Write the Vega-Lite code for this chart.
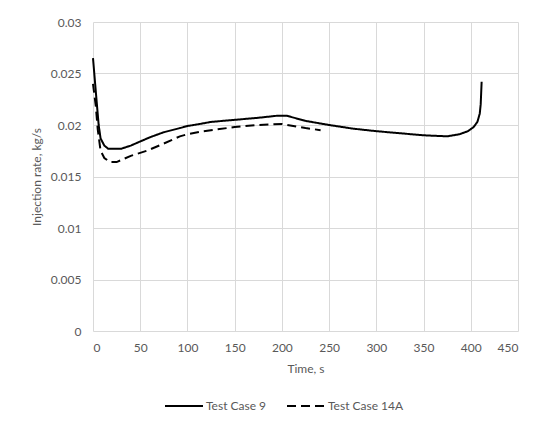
{
  "$schema": "https://vega.github.io/schema/vega-lite/v6.json",
  "width": 425,
  "height": 309,
  "autosize": "none",
  "padding": {"left": 93, "top": 22, "right": 23, "bottom": 92},
  "background": "white",
  "data": {
    "values": [
      {"t": 0, "v": 0.0265, "s": "Test Case 9"},
      {"t": 3, "v": 0.0232, "s": "Test Case 9"},
      {"t": 6, "v": 0.0200, "s": "Test Case 9"},
      {"t": 8, "v": 0.0187, "s": "Test Case 9"},
      {"t": 12, "v": 0.0180, "s": "Test Case 9"},
      {"t": 16, "v": 0.0177, "s": "Test Case 9"},
      {"t": 30, "v": 0.0177, "s": "Test Case 9"},
      {"t": 40, "v": 0.0180, "s": "Test Case 9"},
      {"t": 50, "v": 0.0184, "s": "Test Case 9"},
      {"t": 60, "v": 0.0188, "s": "Test Case 9"},
      {"t": 75, "v": 0.0193, "s": "Test Case 9"},
      {"t": 92, "v": 0.0197, "s": "Test Case 9"},
      {"t": 100, "v": 0.0199, "s": "Test Case 9"},
      {"t": 113, "v": 0.0201, "s": "Test Case 9"},
      {"t": 125, "v": 0.0203, "s": "Test Case 9"},
      {"t": 150, "v": 0.0205, "s": "Test Case 9"},
      {"t": 175, "v": 0.0207, "s": "Test Case 9"},
      {"t": 185, "v": 0.0208, "s": "Test Case 9"},
      {"t": 195, "v": 0.0209, "s": "Test Case 9"},
      {"t": 205, "v": 0.0209, "s": "Test Case 9"},
      {"t": 225, "v": 0.0204, "s": "Test Case 9"},
      {"t": 250, "v": 0.0200, "s": "Test Case 9"},
      {"t": 275, "v": 0.01965, "s": "Test Case 9"},
      {"t": 300, "v": 0.0194, "s": "Test Case 9"},
      {"t": 325, "v": 0.0192, "s": "Test Case 9"},
      {"t": 350, "v": 0.0190, "s": "Test Case 9"},
      {"t": 375, "v": 0.0189, "s": "Test Case 9"},
      {"t": 388, "v": 0.0191, "s": "Test Case 9"},
      {"t": 397, "v": 0.0194, "s": "Test Case 9"},
      {"t": 403, "v": 0.0198, "s": "Test Case 9"},
      {"t": 407, "v": 0.0203, "s": "Test Case 9"},
      {"t": 409.5, "v": 0.0211, "s": "Test Case 9"},
      {"t": 410.5, "v": 0.0220, "s": "Test Case 9"},
      {"t": 411.5, "v": 0.0242, "s": "Test Case 9"},
      {"t": 0, "v": 0.0240, "s": "Test Case 14A"},
      {"t": 3, "v": 0.0218, "s": "Test Case 14A"},
      {"t": 5, "v": 0.0196, "s": "Test Case 14A"},
      {"t": 8, "v": 0.0175, "s": "Test Case 14A"},
      {"t": 12, "v": 0.0168, "s": "Test Case 14A"},
      {"t": 18, "v": 0.0164, "s": "Test Case 14A"},
      {"t": 25, "v": 0.0164, "s": "Test Case 14A"},
      {"t": 30, "v": 0.0166, "s": "Test Case 14A"},
      {"t": 40, "v": 0.0170, "s": "Test Case 14A"},
      {"t": 57, "v": 0.0175, "s": "Test Case 14A"},
      {"t": 75, "v": 0.0182, "s": "Test Case 14A"},
      {"t": 92, "v": 0.0189, "s": "Test Case 14A"},
      {"t": 100, "v": 0.0191, "s": "Test Case 14A"},
      {"t": 117, "v": 0.0194, "s": "Test Case 14A"},
      {"t": 150, "v": 0.0198, "s": "Test Case 14A"},
      {"t": 175, "v": 0.0200, "s": "Test Case 14A"},
      {"t": 200, "v": 0.0201, "s": "Test Case 14A"},
      {"t": 212, "v": 0.0199, "s": "Test Case 14A"},
      {"t": 225, "v": 0.0197, "s": "Test Case 14A"},
      {"t": 241, "v": 0.0195, "s": "Test Case 14A"}
    ]
  },
  "mark": {"type": "line", "strokeWidth": 2, "color": "black"},
  "encoding": {
    "x": {
      "field": "t", "type": "quantitative",
      "scale": {"domain": [0, 450], "nice": false, "zero": false},
      "axis": {"values": [0, 50, 100, 150, 200, 250, 300, 350, 400, 450], "title": "Time, s", "titlePadding": 10, "labelPadding": 11}
    },
    "y": {
      "field": "v", "type": "quantitative",
      "scale": {"domain": [0, 0.03], "nice": false},
      "axis": {"values": [0, 0.005, 0.01, 0.015, 0.02, 0.025, 0.03], "format": "~f", "title": "Injection rate, kg/s", "labelPadding": 12, "titlePadding": 7}
    },
    "strokeDash": {
      "field": "s", "type": "nominal",
      "scale": {"domain": ["Test Case 9", "Test Case 14A"], "range": [[1, 0], [9, 5]]},
      "legend": {"orient": "none", "legendX": 71, "legendY": 364, "direction": "horizontal", "title": null, "symbolType": "stroke", "symbolSize": 1444, "symbolStrokeWidth": 2, "symbolStrokeColor": "black", "columnPadding": 16, "labelOffset": 2}
    }
  },
  "config": {
    "font": "Lato",
    "view": {"stroke": null},
    "axis": {
      "labelFont": "Lato", "titleFont": "Lato", "labelFontSize": 12, "titleFontSize": 12,
      "labelColor": "#595959", "titleColor": "#595959", "titleFontWeight": "normal",
      "gridColor": "#d9d9d9", "gridWidth": 1, "domain": false, "ticks": false
    },
    "legend": {"labelFont": "Lato", "labelFontSize": 12, "labelColor": "#595959"}
  }
}
